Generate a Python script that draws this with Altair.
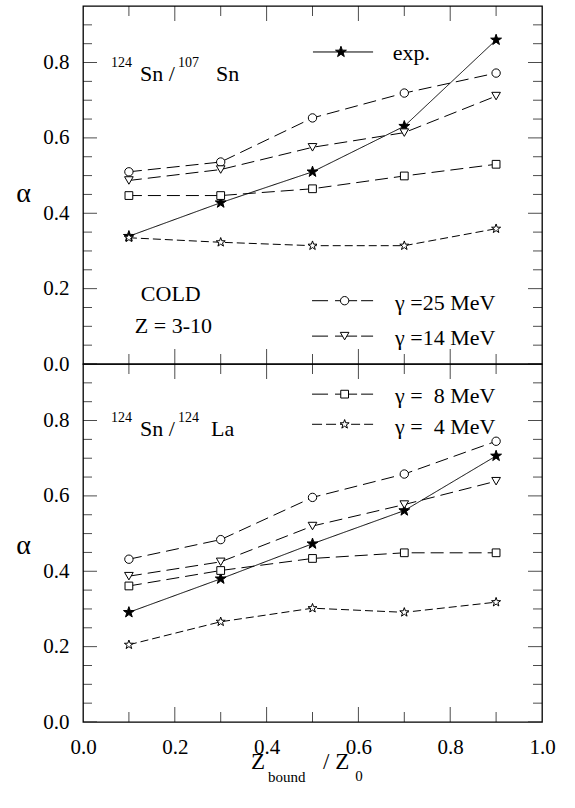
import math
import altair as alt
import pandas as pd

FONT = "Liberation Serif"
NB = "\u00a0"

# ---------------- data ----------------
x_vals = [0.1, 0.3, 0.5, 0.7, 0.9]
series_names = ["exp.", "γ =25 MeV", "γ =14 MeV", "γ =" + NB + NB + "8 MeV", "γ =" + NB + NB + "4 MeV"]

# top panel: 124Sn / 107Sn
top_exp = [0.339, 0.428, 0.510, 0.631, 0.860]
top_g25 = [0.510, 0.536, 0.653, 0.719, 0.772]
top_g14 = [0.487, 0.516, 0.575, 0.614, 0.711]
top_g8 = [0.447, 0.447, 0.465, 0.499, 0.530]
top_g4 = [0.335, 0.323, 0.314, 0.314, 0.359]

# bottom panel: 124Sn / 124La
bot_exp = [0.291, 0.380, 0.473, 0.561, 0.706]
bot_g25 = [0.432, 0.484, 0.596, 0.658, 0.745]
bot_g14 = [0.387, 0.425, 0.520, 0.577, 0.639]
bot_g8 = [0.361, 0.402, 0.434, 0.449, 0.449]
bot_g4 = [0.205, 0.266, 0.302, 0.291, 0.318]

y_major = [0.0, 0.2, 0.4, 0.6, 0.8]
y_minor = [0.05, 0.1, 0.15, 0.25, 0.3, 0.35, 0.45, 0.5, 0.55, 0.65, 0.7, 0.75, 0.85, 0.9]
x_major = [0.2, 0.4, 0.6, 0.8]
x_minor = [0.1, 0.3, 0.5, 0.7, 0.9]
x_labels = [0.0, 0.2, 0.4, 0.6, 0.8, 1.0]

W, H = 459, 358
S4 = series_names[4]


def star_path(inner=0.4):
    pts = []
    for k in range(10):
        ang = math.radians(-90 + 36 * k)
        r = 1.0 if k % 2 == 0 else inner
        pts.append(f"{r * math.cos(ang):.4f},{r * math.sin(ang):.4f}")
    return "M" + "L".join(pts) + "Z"


STAR = star_path()
DASHES = [[1, 0], [13, 6], [13, 6], [13, 6], [8, 4]]
styles = {
    series_names[0]: dict(shape=STAR, size=130, fill="black"),
    series_names[1]: dict(shape="circle", size=70, fill="white"),
    series_names[2]: dict(shape="triangle-down", size=75, fill="white"),
    series_names[3]: dict(shape="square", size=60, fill="white"),
    series_names[4]: dict(shape=STAR, size=90, fill="white"),
}

XS = alt.Scale(domain=[0, 1], nice=False, zero=False)
YS = alt.Scale(domain=[0, 0.95], nice=False, zero=False)


def panel(values, texts, legend, bottom, title_y):
    if bottom:
        xaxis = alt.Axis(values=x_labels, format=".1f", ticks=False, domain=False, grid=False,
                         labelFont=FONT, labelFontSize=21, labelColor="black", labelPadding=14,
                         labelFlush=False, title=None)
    else:
        xaxis = None
    yaxis = alt.Axis(values=y_major, format=".1f", ticks=False, domain=False, grid=False,
                     labelFont=FONT, labelFontSize=21, labelColor="black", labelPadding=14,
                     title="α", titleAngle=0, titleFont=FONT, titleFontSize=28,
                     titleFontWeight="normal", titleColor="black", titleX=-60, titleY=title_y,
                     titleAlign="center", titleBaseline="middle")

    def X(f="x"):
        return alt.X(f"{f}:Q", scale=XS, axis=xaxis)

    def Y(f="y"):
        return alt.Y(f"{f}:Q", scale=YS, axis=yaxis)

    layers = []
    # data lines (one mark, dash by series)
    rows = []
    for s in series_names:
        for xv, yv in zip(x_vals, values[s]):
            rows.append({"series": s, "x": xv, "y": yv})
    ldf = pd.DataFrame(rows)
    layers.append(alt.Chart(ldf).mark_line(color="black", strokeWidth=1).encode(
        x=X(), y=Y(),
        strokeDash=alt.StrokeDash("series:N", scale=alt.Scale(domain=series_names, range=DASHES),
                                  legend=None)))
    # legend lines
    for s, lx, ly in legend:
        if s == series_names[0]:
            df = pd.DataFrame({"xa": [0.501], "xb": [0.632], "y": [ly]})
            layers.append(alt.Chart(df).mark_rule(color="black", strokeWidth=1).encode(
                x=X("xa"), x2="xb:Q", y=Y()))
        else:
            d1 = [16, 7] if s != S4 else [10, 4]
            d2 = [12, 4] if s != S4 else [9, 4]
            df1 = pd.DataFrame({"xa": [0.499], "xb": [lx], "y": [ly]})
            df2 = pd.DataFrame({"xa": [0.632], "xb": [lx], "y": [ly]})
            layers.append(alt.Chart(df1).mark_rule(color="black", strokeWidth=1, strokeDash=d1).encode(
                x=X("xa"), x2="xb:Q", y=Y()))
            layers.append(alt.Chart(df2).mark_rule(color="black", strokeWidth=1, strokeDash=d2).encode(
                x=X("xa"), x2="xb:Q", y=Y()))
    # points (data + legend markers), one mark per series
    for s in series_names:
        xs = list(x_vals)
        ys = list(values[s])
        for ls, lx, ly in legend:
            if ls == s:
                xs.append(lx)
                ys.append(ly)
        st = styles[s]
        layers.append(alt.Chart(pd.DataFrame({"x": xs, "y": ys})).mark_point(
            shape=st["shape"], size=st["size"], filled=True, fill=st["fill"], stroke="black",
            strokeWidth=1, opacity=1).encode(x=X(), y=Y()))
    # inward ticks: centred ticks clipped at the frame
    yt = [{"x": e, "y": v, "len": 28} for v in y_major for e in (0, 1)] + \
         [{"x": e, "y": v, "len": 18} for v in y_minor for e in (0, 1)]
    layers.append(alt.Chart(pd.DataFrame(yt)).mark_tick(orient="horizontal", clip=True,
                                                        color="black", thickness=1).encode(
        x=X(), y=Y(), size=alt.Size("len:Q", scale=None)))
    xt = [{"x": v, "y": e, "len": 30} for v in x_major for e in (0, 0.95)] + \
         [{"x": v, "y": e, "len": 20} for v in x_minor for e in (0, 0.95)]
    layers.append(alt.Chart(pd.DataFrame(xt)).mark_tick(orient="vertical", clip=True,
                                                        color="black", thickness=1).encode(
        x=X(), y=Y(), size=alt.Size("len:Q", scale=None)))
    # texts (one mark)
    tdf = pd.DataFrame(texts, columns=["t", "x", "y", "fs"])
    layers.append(alt.Chart(tdf).mark_text(font=FONT, align="left", baseline="alphabetic",
                                           color="black").encode(
        x=X(), y=Y(), text="t:N", size=alt.Size("fs:Q", scale=None)))
    return alt.layer(*layers).properties(width=W, height=H)


top_values = dict(zip(series_names, [top_exp, top_g25, top_g14, top_g8, top_g4]))
bot_values = dict(zip(series_names, [bot_exp, bot_g25, bot_g14, bot_g8, bot_g4]))

top_texts = [
    ("124", 0.061, 0.788, 14), ("Sn /", 0.124, 0.751, 22), ("107", 0.207, 0.788, 14),
    ("Sn", 0.290, 0.751, 22),
    ("COLD", 0.126, 0.166, 22), ("Z = 3-10", 0.113, 0.083, 22),
    ("exp.", 0.675, 0.806, 22),
    (series_names[1], 0.680, 0.142, 22), (series_names[2], 0.680, 0.050, 22),
]
bot_texts = [
    ("124", 0.061, 0.795, 14), ("Sn /", 0.124, 0.759, 22), ("124", 0.207, 0.795, 14),
    ("La", 0.279, 0.759, 22),
    (series_names[3], 0.680, 0.846, 22), (series_names[4], 0.680, 0.764, 22),
    ("Z", 0.366, -0.124, 23), ("bound", 0.403, -0.158, 15), ("/ Z", 0.523, -0.124, 23),
    ("0", 0.593, -0.156, 15),
]
top_legend = [(series_names[0], 0.562, 0.828), (series_names[1], 0.570, 0.168),
              (series_names[2], 0.570, 0.074)]
bot_legend = [(series_names[3], 0.570, 0.870), (series_names[4], 0.570, 0.790)]

top = panel(top_values, top_texts, top_legend, False, 187)
bot = panel(bot_values, bot_texts, bot_legend, True, 181)

chart = alt.vconcat(top, bot, spacing=0, bounds="flush").properties(
    padding={"left": 15, "top": 5, "right": 5, "bottom": 0},
).configure_view(stroke="black", strokeWidth=1.3)

chart.save("out.html", embed_options={"renderer": "svg", "actions": False})
